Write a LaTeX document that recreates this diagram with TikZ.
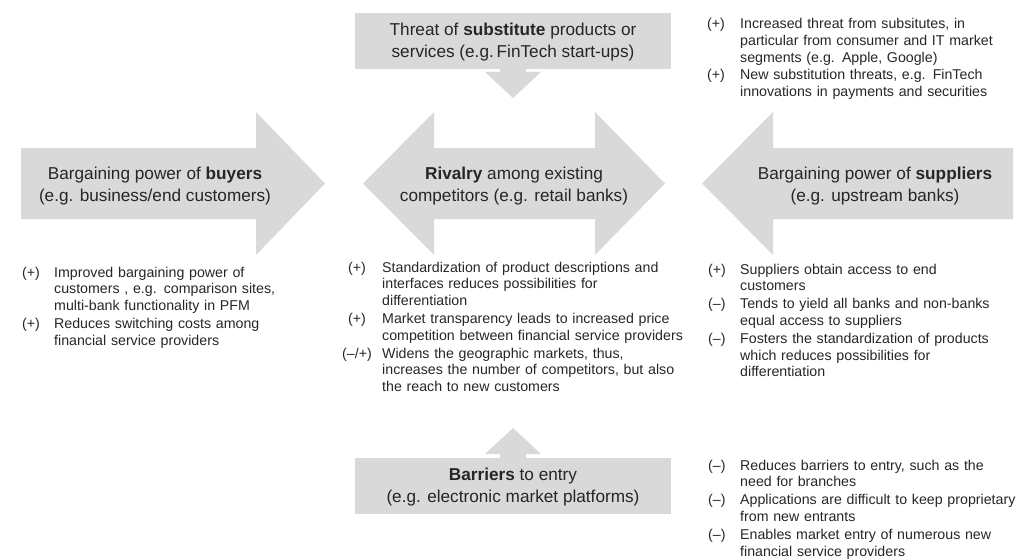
\documentclass[tikz,border=0pt]{standalone}
\usepackage{fontspec}
\setmainfont{Liberation Sans}
\definecolor{arrowgray}{RGB}{217,217,217}
\definecolor{txt}{RGB}{38,38,38}
\newcommand\itm[3]{\par\noindent\makebox[#1][l]{#2}\begin{tabular}[t]{@{}l@{}}#3\end{tabular}\par}
\begin{document}
\begin{tikzpicture}[x=1pt,y=-1pt,
  shapefill/.style={fill=arrowgray,draw=none},
  headtxt/.style={align=center,inner sep=0pt,text=txt,font=\fontsize{17.2}{21.5}\selectfont},
  listtxt/.style={anchor=north west,inner sep=0pt,text=txt,text width=320pt,align=left,font=\fontsize{14.2}{16.8}\selectfont}]
\useasboundingbox (0,0) rectangle (1019,559);
% top arrow (substitutes)
\fill[shapefill] (355,13) rectangle (671,69);
\fill[shapefill] (500,68) rectangle (526,73);
\fill[shapefill] (485,72) -- (541,72) -- (513,98) -- cycle;
% bottom arrow (barriers)
\fill[shapefill] (485,454) -- (541,454) -- (513,428) -- cycle;
\fill[shapefill] (500,453) rectangle (526,459);
\fill[shapefill] (355,458) rectangle (671,514);
% left arrow (buyers)
\fill[shapefill] (21,148) -- (256,148) -- (256,112) -- (325,183.5) -- (256,255) -- (256,219) -- (21,219) -- cycle;
% center double arrow (rivalry)
\fill[shapefill] (363,183.5) -- (434,112) -- (434,148) -- (595,148) -- (595,112) -- (665,183.5) -- (595,255) -- (595,219) -- (434,219) -- (434,255) -- cycle;
% right arrow (suppliers)
\fill[shapefill] (702,183.5) -- (773,112) -- (773,148) -- (1013,148) -- (1013,219) -- (773,219) -- (773,255) -- cycle;
% headings
\node[headtxt] (subst) at (513,42) {Threat of \textbf{substitute} products or\\services (e.g.\,FinTech start-ups)};
\node[headtxt] (buyers) at (155,186) {Bargaining power of \textbf{buyers}\\(e.g. business/end customers)};
\node[headtxt] (rivalry) at (514,186) {\textbf{Rivalry} among existing\\competitors (e.g. retail banks)};
\node[headtxt] (suppliers) at (875,186) {Bargaining power of \textbf{suppliers}\\(e.g. upstream banks)};
\node[headtxt] (barriers) at (513,487) {\textbf{Barriers} to entry\\(e.g. electronic market platforms)};
% lists
\node[listtxt] (substlist) at (707,11.5) {%
\itm{33pt}{(+)}{Increased threat from subsitutes, in\\particular from consumer and IT market\\segments (e.g. Apple, Google)}%
\itm{33pt}{(+)}{New substitution threats, e.g. FinTech\\innovations in payments and securities}};
\node[listtxt] (buyerslist) at (22,260) {%
\itm{32pt}{(+)}{Improved bargaining power of\\customers , e.g. comparison sites,\\multi-bank functionality in PFM}%
\itm{32pt}{(+)}{Reduces switching costs among\\financial service providers}};
\node[listtxt] (rivalrylist) at (348,255) {%
\itm{34pt}{(+)}{Standardization of product descriptions and\\interfaces reduces possibilities for\\differentiation}%
\itm{34pt}{(+)}{Market transparency leads to increased price\\competition between financial service providers}%
\itm{34pt}{\kern-6pt(–/+)}{Widens the geographic markets, thus,\\increases the number of competitors, but also\\the reach to new customers}};
\node[listtxt] (supplierslist) at (708,257) {%
\itm{32pt}{(+)}{Suppliers obtain access to end\\customers}%
\itm{32pt}{(–)}{Tends to yield all banks and non-banks\\equal access to suppliers}%
\itm{32pt}{(–)}{Fosters the standardization of products\\which reduces possibilities for\\differentiation}};
\node[listtxt] (barrierslist) at (708,453) {%
\itm{32pt}{(–)}{Reduces barriers to entry, such as the\\need for branches}%
\itm{32pt}{(–)}{Applications are difficult to keep proprietary\\from new entrants}%
\itm{32pt}{(–)}{Enables market entry of numerous new\\financial service providers}};
\end{tikzpicture}
\end{document}
